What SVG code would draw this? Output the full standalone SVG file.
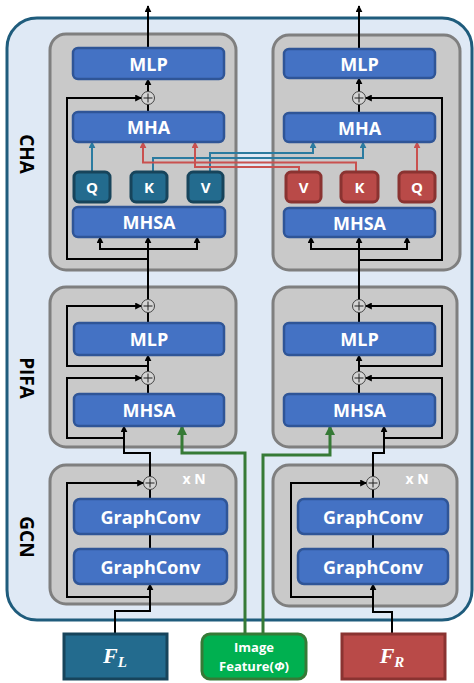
<svg xmlns="http://www.w3.org/2000/svg" width="474" height="683" viewBox="0 0 474 683">
<defs>
<style>
.panel{fill:#c9c9c9;stroke:#7f7f7f;stroke-width:3}
.blk{fill:#4472c4;stroke:#2f5597;stroke-width:2.5}
.qb{fill:#236b8e;stroke:#17445b;stroke-width:3}
.qr{fill:#b94a48;stroke:#8a3331;stroke-width:3}
.t{font-family:"Open Sans","Liberation Sans",sans-serif;font-weight:bold;fill:#ffffff;text-anchor:middle;dominant-baseline:central}
.lab{font-family:"Open Sans","Liberation Sans",sans-serif;font-weight:bold;fill:#000;text-anchor:middle;dominant-baseline:central;font-size:19px}
.k{fill:none;stroke:#000;stroke-width:2}
.kb{fill:none;stroke:#2b7ba0;stroke-width:2}
.kr{fill:none;stroke:#c9514f;stroke-width:2}
.kg{fill:none;stroke:#367a36;stroke-width:3}
.plus{fill:#d4d4d4;stroke:#404040;stroke-width:1}
.pl{stroke:#202020;stroke-width:1;fill:none}
</style>
<marker id="ak" viewBox="0 0 10 10" refX="9" refY="5" markerWidth="7" markerHeight="7" markerUnits="userSpaceOnUse" orient="auto"><path d="M0,0 L10,5 L0,10 z" fill="#000"/></marker>
<marker id="ab" viewBox="0 0 10 10" refX="9" refY="5" markerWidth="7" markerHeight="7" markerUnits="userSpaceOnUse" orient="auto"><path d="M0,0 L10,5 L0,10 z" fill="#2b7ba0"/></marker>
<marker id="ar" viewBox="0 0 10 10" refX="9" refY="5" markerWidth="7" markerHeight="7" markerUnits="userSpaceOnUse" orient="auto"><path d="M0,0 L10,5 L0,10 z" fill="#c9514f"/></marker>
<marker id="ag" viewBox="0 0 10 10" refX="9" refY="5" markerWidth="10" markerHeight="10" markerUnits="userSpaceOnUse" orient="auto"><path d="M0,0 L10,5 L0,10 z" fill="#367a36"/></marker>
</defs>

<rect x="0" y="0" width="474" height="683" fill="#ffffff"/>
<g id="container">
<rect x="7" y="18" width="465" height="602" rx="30" fill="#dfe9f5" stroke="#1f5c7c" stroke-width="3"/>
</g>

<g id="labels">
<text class="lab" transform="translate(27,154) rotate(90)">CHA</text>
<text class="lab" transform="translate(27,378) rotate(90)">PIFA</text>
<text class="lab" transform="translate(27,537) rotate(90)">GCN</text>
</g>

<g id="panel-cha-left"><rect class="panel" x="50" y="34" width="186" height="236" rx="16"/></g>
<g id="panel-cha-right"><rect class="panel" x="273" y="35" width="187" height="235" rx="16"/></g>
<g id="panel-pifa-left"><rect class="panel" x="50" y="287" width="186" height="160" rx="16"/></g>
<g id="panel-pifa-right"><rect class="panel" x="273" y="287" width="184" height="160" rx="16"/></g>
<g id="panel-gcn-left"><rect class="panel" x="50" y="465" width="186" height="139" rx="16"/><text class="t" x="194" y="478" font-size="14">x N</text></g>
<g id="panel-gcn-right"><rect class="panel" x="273" y="465" width="184" height="141" rx="16"/><text class="t" x="417" y="478" font-size="14">x N</text></g>

<g id="connectors">
<!-- left CHA -->
<path class="k" d="M148 48 V6" marker-end="url(#ak)"/>
<path class="k" d="M148 91.5 V79" marker-end="url(#ak)"/>
<path class="k" d="M148 112 V104.5"/>
<path class="k" d="M148 259 H67 V98 H141.5" marker-end="url(#ak)"/>
<path class="k" d="M148 299.5 V237" marker-end="url(#ak)"/>
<path class="k" d="M148 249 H100 V237" marker-end="url(#ak)"/>
<path class="k" d="M148 249 H197 V237" marker-end="url(#ak)"/>
<!-- right CHA -->
<path class="k" d="M359 49 V6" marker-end="url(#ak)"/>
<path class="k" d="M359 91.5 V78" marker-end="url(#ak)"/>
<path class="k" d="M359 113 V104.5"/>
<path class="k" d="M359 260 H442 V98 H365.5" marker-end="url(#ak)"/>
<path class="k" d="M359 299.5 V237" marker-end="url(#ak)"/>
<path class="k" d="M359 249 H311 V237" marker-end="url(#ak)"/>
<path class="k" d="M359 249 H407 V237" marker-end="url(#ak)"/>
<!-- cross attention -->
<path class="kb" d="M92 172 V142" marker-end="url(#ab)"/>
<path class="kb" d="M153 172 V158 H363 V142" marker-end="url(#ab)"/>
<path class="kb" d="M210 172 V153 H313 V142" marker-end="url(#ab)"/>
<path class="kr" d="M417 172 V142" marker-end="url(#ar)"/>
<path class="kr" d="M356 172 V162.5 H143 V142" marker-end="url(#ar)"/>
<path class="kr" d="M299 172 V167 H195 V142" marker-end="url(#ar)"/>
<!-- left PIFA -->
<path class="k" d="M148 323 V312.5"/>
<path class="k" d="M148 371.5 V355" marker-end="url(#ak)"/>
<path class="k" d="M148 394 V384.5"/>
<path class="k" d="M148 366 H67 V306 H141.5" marker-end="url(#ak)"/>
<path class="k" d="M124 438 H67 V378 H141.5" marker-end="url(#ak)"/>
<path class="k" d="M150 476.5 V453 H124 V426" marker-end="url(#ak)"/>
<!-- right PIFA -->
<path class="k" d="M359 323 V312.5"/>
<path class="k" d="M359 371.5 V355" marker-end="url(#ak)"/>
<path class="k" d="M359 394 V384.5"/>
<path class="k" d="M359 366 H442 V306 H365.5" marker-end="url(#ak)"/>
<path class="k" d="M384 438 H442 V378 H365.5" marker-end="url(#ak)"/>
<path class="k" d="M373 476.5 V453 H384 V426" marker-end="url(#ak)"/>
<!-- left GCN -->
<path class="k" d="M150 499 V489.5"/>
<path class="k" d="M150 534 V549"/>
<path class="k" d="M150 597 H67 V483 H143.5" marker-end="url(#ak)"/>
<path class="k" d="M115 633 V611 H150 V584" marker-end="url(#ak)"/>
<!-- right GCN -->
<path class="k" d="M373 499 V489.5"/>
<path class="k" d="M373 534 V549"/>
<path class="k" d="M373 597 H291 V483 H366.5" marker-end="url(#ak)"/>
<path class="k" d="M392 633 V612 H373 V584" marker-end="url(#ak)"/>
<!-- image feature -->
<path class="kg" d="M245 633 V453 H182 V426" marker-end="url(#ag)"/>
<path class="kg" d="M263 633 V455 H330 V426" marker-end="url(#ag)"/>
</g>

<g id="sum-cha-left"><circle class="plus" cx="148" cy="98" r="6.5"/><path class="pl" d="M143.5 98 H152.5 M148 93.5 V102.5"/></g>
<g id="sum-cha-right"><circle class="plus" cx="359" cy="98" r="6.5"/><path class="pl" d="M354.5 98 H363.5 M359 93.5 V102.5"/></g>
<g id="sum-pifa-left-1"><circle class="plus" cx="148" cy="306" r="6.5"/><path class="pl" d="M143.5 306 H152.5 M148 301.5 V310.5"/></g>
<g id="sum-pifa-left-2"><circle class="plus" cx="148" cy="378" r="6.5"/><path class="pl" d="M143.5 378 H152.5 M148 373.5 V382.5"/></g>
<g id="sum-pifa-right-1"><circle class="plus" cx="359" cy="306" r="6.5"/><path class="pl" d="M354.5 306 H363.5 M359 301.5 V310.5"/></g>
<g id="sum-pifa-right-2"><circle class="plus" cx="359" cy="378" r="6.5"/><path class="pl" d="M354.5 378 H363.5 M359 373.5 V382.5"/></g>
<g id="sum-gcn-left"><circle class="plus" cx="150" cy="483" r="6.5"/><path class="pl" d="M145.5 483 H154.5 M150 478.5 V487.5"/></g>
<g id="sum-gcn-right"><circle class="plus" cx="373" cy="483" r="6.5"/><path class="pl" d="M368.5 483 H377.5 M373 478.5 V487.5"/></g>

<!-- left CHA nodes -->
<g id="mlp-cha-left"><rect class="blk" x="73" y="48" width="151" height="31" rx="5"/><text class="t" x="148.5" y="63.5" font-size="18">MLP</text></g>
<g id="mha-left"><rect class="blk" x="73" y="112" width="151" height="30" rx="5"/><text class="t" x="148.5" y="127" font-size="18">MHA</text></g>
<g id="q-left"><rect class="qb" x="74" y="172" width="36" height="30" rx="5"/><text class="t" x="92" y="187" font-size="15">Q</text></g>
<g id="k-left"><rect class="qb" x="131" y="172" width="36" height="30" rx="5"/><text class="t" x="149" y="187" font-size="15">K</text></g>
<g id="v-left"><rect class="qb" x="188" y="172" width="35" height="30" rx="5"/><text class="t" x="205.5" y="187" font-size="15">V</text></g>
<g id="mhsa-cha-left"><rect class="blk" x="73" y="207" width="152" height="30" rx="5"/><text class="t" x="149" y="222" font-size="18">MHSA</text></g>

<!-- right CHA nodes -->
<g id="mlp-cha-right"><rect class="blk" x="284" y="49" width="151" height="29" rx="5"/><text class="t" x="359.5" y="63.5" font-size="18">MLP</text></g>
<g id="mha-right"><rect class="blk" x="284" y="113" width="151" height="29" rx="5"/><text class="t" x="359.5" y="127.5" font-size="18">MHA</text></g>
<g id="v-right"><rect class="qr" x="286" y="172" width="35" height="30" rx="5"/><text class="t" x="303.5" y="187" font-size="15">V</text></g>
<g id="k-right"><rect class="qr" x="341" y="172" width="37" height="30" rx="5"/><text class="t" x="359.5" y="187" font-size="15">K</text></g>
<g id="q-right"><rect class="qr" x="399" y="172" width="36" height="30" rx="5"/><text class="t" x="417" y="187" font-size="15">Q</text></g>
<g id="mhsa-cha-right"><rect class="blk" x="284" y="208" width="151" height="29" rx="5"/><text class="t" x="359.5" y="222.5" font-size="18">MHSA</text></g>

<!-- PIFA nodes -->
<g id="mlp-pifa-left"><rect class="blk" x="74" y="323" width="150" height="32" rx="5"/><text class="t" x="149" y="339" font-size="18">MLP</text></g>
<g id="mhsa-pifa-left"><rect class="blk" x="74" y="394" width="150" height="32" rx="5"/><text class="t" x="149" y="410" font-size="18">MHSA</text></g>
<g id="mlp-pifa-right"><rect class="blk" x="284" y="323" width="151" height="32" rx="5"/><text class="t" x="359.5" y="339" font-size="18">MLP</text></g>
<g id="mhsa-pifa-right"><rect class="blk" x="284" y="394" width="151" height="32" rx="5"/><text class="t" x="359.5" y="410" font-size="18">MHSA</text></g>

<!-- GCN nodes -->
<g id="gc1-left"><rect class="blk" x="74" y="499" width="153" height="35" rx="6"/><text class="t" x="150.5" y="516.5" font-size="18">GraphConv</text></g>
<g id="gc2-left"><rect class="blk" x="74" y="549" width="153" height="35" rx="6"/><text class="t" x="150.5" y="566.5" font-size="18">GraphConv</text></g>
<g id="gc1-right"><rect class="blk" x="298" y="499" width="150" height="35" rx="6"/><text class="t" x="373" y="516.5" font-size="18">GraphConv</text></g>
<g id="gc2-right"><rect class="blk" x="298" y="549" width="150" height="35" rx="6"/><text class="t" x="373" y="566.5" font-size="18">GraphConv</text></g>

<!-- inputs -->
<g id="input-fl"><rect x="64" y="634" width="103" height="45" fill="#236b8e" stroke="#17445b" stroke-width="3"/><text x="115" y="663" font-family="'Liberation Serif',serif" font-weight="bold" font-style="italic" font-size="22" fill="#fff" text-anchor="middle">F<tspan font-size="15" dy="4">L</tspan></text></g>
<g id="input-image"><rect x="202" y="634" width="104" height="45" rx="8" fill="#00b050" stroke="#367a36" stroke-width="3"/><text class="t" x="254" y="647" font-size="13">Image</text><text class="t" x="254" y="665.5" font-size="13">Feature(<tspan font-style="italic">Φ</tspan>)</text></g>
<g id="input-fr"><rect x="342" y="634" width="103" height="45" fill="#b94a48" stroke="#8a3331" stroke-width="3"/><text x="392" y="663" font-family="'Liberation Serif',serif" font-weight="bold" font-style="italic" font-size="22" fill="#fff" text-anchor="middle">F<tspan font-size="15" dy="4">R</tspan></text></g>
</svg>
